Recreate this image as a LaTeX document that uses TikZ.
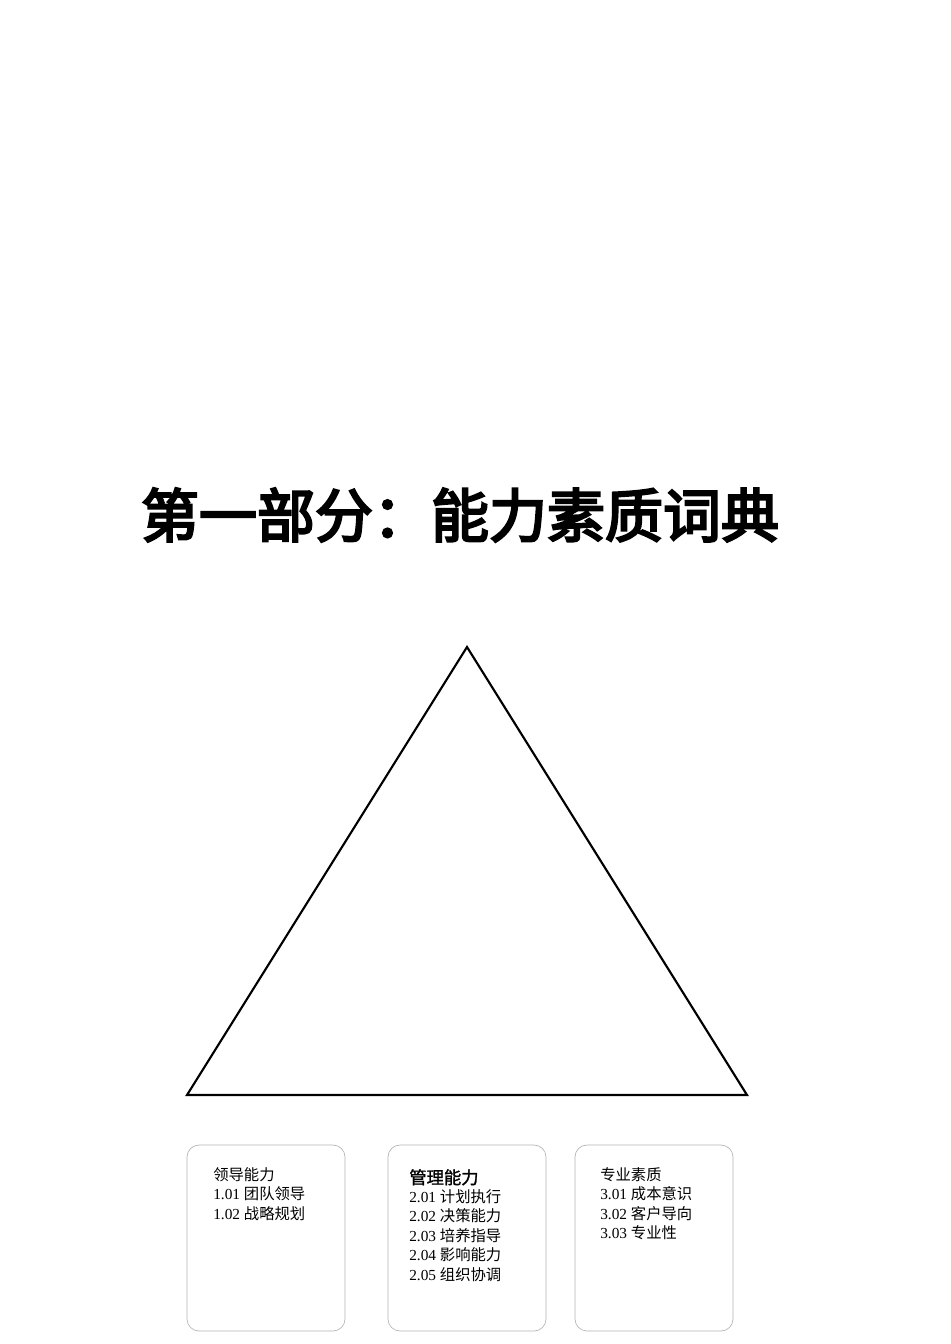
\documentclass[tikz,border=0pt]{standalone}
\usepackage{fontspec}
\setmainfont{Liberation Serif}
\newfontfamily\cjk{Noto Sans CJK SC}
\newfontfamily\cjkbold[FakeBold=4]{Noto Sans CJK SC}
\newfontfamily\cjksemibold[FakeBold=1.5]{Noto Sans CJK SC}
\begin{document}
\begin{tikzpicture}[x=0.75pt,y=-0.75pt,
  catbox/.style={draw=black!30, line width=0.5pt, rounded corners=9pt},
  listtext/.style={anchor=north west, align=left, inner sep=0pt, font=\fontsize{11.5}{14.6}\selectfont},
  tri/.style={draw=black, line width=1.6pt, line join=miter}]
\useasboundingbox (0,0) rectangle (950,1344);
\node (title) at (460,515) {\fontsize{43.5}{48}\selectfont\cjkbold 第一部分：能力素质词典};
\coordinate (apex) at (467,647);
\coordinate (bl) at (187,1095);
\coordinate (br) at (747,1095);
\draw[tri] (apex) -- (bl) -- (br) -- cycle;
\draw[catbox] (187,1145) rectangle (345,1331);
\draw[catbox] (388,1145) rectangle (546,1331);
\draw[catbox] (575,1145) rectangle (733,1331);
\node[listtext] (lead) at (213,1167) {{\cjk 领导能力}\\1.01 {\cjk 团队领导}\\1.02 {\cjk 战略规划}};
\node[listtext] (mgmt) at (409,1189) {2.01 {\cjk 计划执行}\\2.02 {\cjk 决策能力}\\2.03 {\cjk 培养指导}\\2.04 {\cjk 影响能力}\\2.05 {\cjk 组织协调}};
\node[anchor=north west, inner sep=0pt, font=\fontsize{13}{15}\selectfont\cjksemibold] (mgmttitle) at (409,1169) {管理能力};
\node[listtext] (prof) at (600,1167) {{\cjk 专业素质}\\3.01 {\cjk 成本意识}\\3.02 {\cjk 客户导向}\\3.03 {\cjk 专业性}};
\end{tikzpicture}
\end{document}
